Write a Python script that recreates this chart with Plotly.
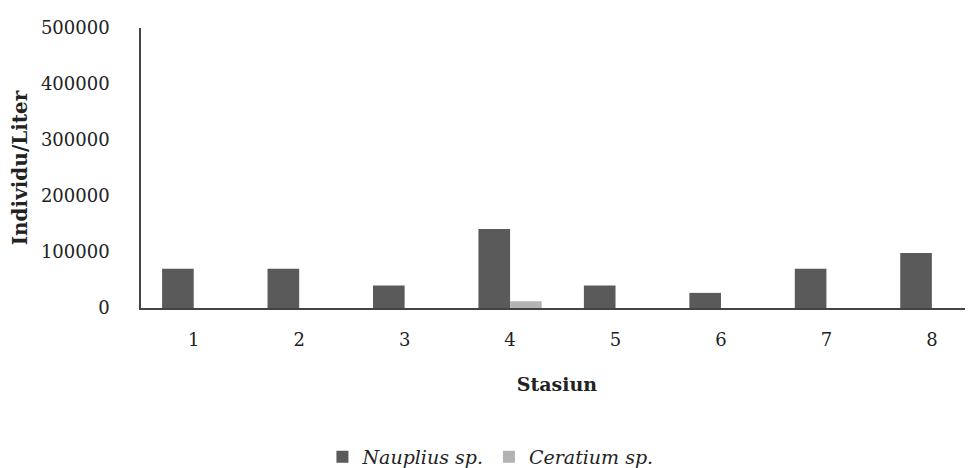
import plotly.graph_objects as go

stations = [1, 2, 3, 4, 5, 6, 7, 8]
station_labels = ["1", "2", "3", "4", "5", "6", "7", "8"]
nauplius = [70000, 70000, 40000, 141000, 40000, 27000, 70000, 98000]
ceratium = [0, 0, 0, 12000, 0, 0, 0, 0]
y_ticks = [0, 100000, 200000, 300000, 400000, 500000]

FONT = "DejaVu Serif"

fig = go.Figure()
fig.add_trace(go.Bar(
    x=stations, y=nauplius, name="<i>Nauplius sp.</i>",
    marker=dict(color="#5a5a5a", line=dict(width=0)),
))
fig.add_trace(go.Bar(
    x=stations, y=ceratium, name="<i>Ceratium sp.</i>",
    marker=dict(color="#b3b3b3", line=dict(width=0)),
))

fig.update_layout(
    width=965, height=460,
    margin=dict(l=133, r=0, t=20, b=160, autoexpand=False),
    paper_bgcolor="white", plot_bgcolor="white",
    barmode="group", bargap=0.4, bargroupgap=0,
    font=dict(family=FONT, size=18, color="#222222"),
    showlegend=True,
    legend=dict(orientation="h", x=0.42, xanchor="center", y=-0.532, yanchor="middle",
                font=dict(family=FONT, size=19, color="#222222"),
                itemwidth=30, traceorder="normal"),
)
fig.update_xaxes(
    range=[0.5, 8.39], tickmode="array", tickvals=stations, ticktext=station_labels,
    showline=True, linecolor="#444444", linewidth=1.5, showgrid=False, zeroline=False,
    ticks="", ticklabelstandoff=15,
    title=dict(text="<b>Stasiun</b>", standoff=28, font=dict(family=FONT, size=19)),
)
fig.update_yaxes(
    range=[0, 500000], tickmode="array", tickvals=y_ticks,
    ticktext=[str(v) for v in y_ticks],
    showline=True, linecolor="#444444", linewidth=1.5, showgrid=False, zeroline=False,
    ticks="", ticklabelstandoff=26, tickfont=dict(size=18),
    title=dict(text="<b>Individu/Liter</b>", standoff=12, font=dict(family=FONT, size=20)),
)

fig.write_html("out.html")
